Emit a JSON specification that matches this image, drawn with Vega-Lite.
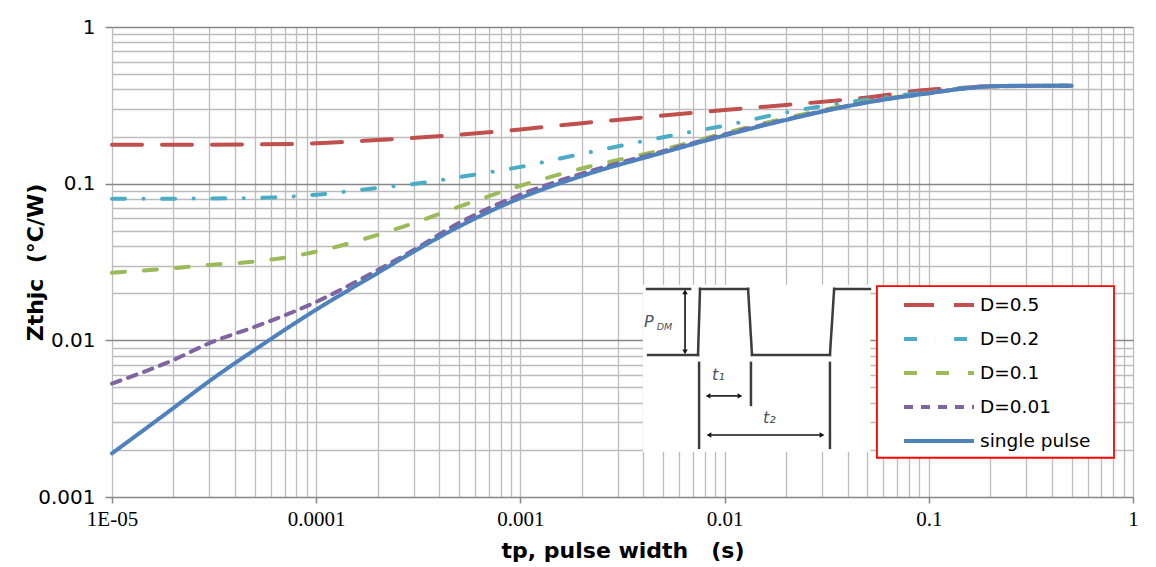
{
  "$schema": "https://vega.github.io/schema/vega-lite/v6.json",
  "width": 1021,
  "height": 470,
  "autosize": {"type": "none"},
  "padding": {"left": 112, "top": 27, "right": 23, "bottom": 70},
  "background": "white",
  "config": {"view": {"stroke": null}},
  "resolve": {"axis": {"x": "independent", "y": "independent"}},
  "datasets": {
    "curves": [
      {"series": "D=0.5", "tp": 0.00001, "z": 0.177},
      {"series": "D=0.5", "tp": 0.00002, "z": 0.177},
      {"series": "D=0.5", "tp": 0.00005, "z": 0.178},
      {"series": "D=0.5", "tp": 0.0001, "z": 0.181},
      {"series": "D=0.5", "tp": 0.0002, "z": 0.19},
      {"series": "D=0.5", "tp": 0.0005, "z": 0.205},
      {"series": "D=0.5", "tp": 0.001, "z": 0.222},
      {"series": "D=0.5", "tp": 0.002, "z": 0.243},
      {"series": "D=0.5", "tp": 0.005, "z": 0.272},
      {"series": "D=0.5", "tp": 0.01, "z": 0.295},
      {"series": "D=0.5", "tp": 0.02, "z": 0.318},
      {"series": "D=0.5", "tp": 0.05, "z": 0.355},
      {"series": "D=0.5", "tp": 0.1, "z": 0.398},
      {"series": "D=0.5", "tp": 0.15, "z": 0.41},
      {"series": "D=0.5", "tp": 0.2, "z": 0.418},
      {"series": "D=0.5", "tp": 0.5, "z": 0.422},
      {"series": "D=0.2", "tp": 0.00001, "z": 0.08},
      {"series": "D=0.2", "tp": 0.00002, "z": 0.0802},
      {"series": "D=0.2", "tp": 0.00005, "z": 0.081},
      {"series": "D=0.2", "tp": 0.0001, "z": 0.085},
      {"series": "D=0.2", "tp": 0.0002, "z": 0.094},
      {"series": "D=0.2", "tp": 0.0003, "z": 0.0995},
      {"series": "D=0.2", "tp": 0.0005, "z": 0.11},
      {"series": "D=0.2", "tp": 0.001, "z": 0.128},
      {"series": "D=0.2", "tp": 0.002, "z": 0.155},
      {"series": "D=0.2", "tp": 0.005, "z": 0.198},
      {"series": "D=0.2", "tp": 0.01, "z": 0.235},
      {"series": "D=0.2", "tp": 0.02, "z": 0.285},
      {"series": "D=0.2", "tp": 0.05, "z": 0.345},
      {"series": "D=0.2", "tp": 0.1, "z": 0.385},
      {"series": "D=0.2", "tp": 0.2, "z": 0.418},
      {"series": "D=0.2", "tp": 0.5, "z": 0.422},
      {"series": "D=0.1", "tp": 0.00001, "z": 0.027},
      {"series": "D=0.1", "tp": 0.00002, "z": 0.0289},
      {"series": "D=0.1", "tp": 0.00003, "z": 0.0303},
      {"series": "D=0.1", "tp": 0.00005, "z": 0.0318},
      {"series": "D=0.1", "tp": 0.0001, "z": 0.0368},
      {"series": "D=0.1", "tp": 0.0002, "z": 0.0471},
      {"series": "D=0.1", "tp": 0.0003, "z": 0.056},
      {"series": "D=0.1", "tp": 0.0005, "z": 0.0713},
      {"series": "D=0.1", "tp": 0.001, "z": 0.097},
      {"series": "D=0.1", "tp": 0.002, "z": 0.125},
      {"series": "D=0.1", "tp": 0.005, "z": 0.165},
      {"series": "D=0.1", "tp": 0.01, "z": 0.21},
      {"series": "D=0.1", "tp": 0.02, "z": 0.262},
      {"series": "D=0.1", "tp": 0.05, "z": 0.335},
      {"series": "D=0.1", "tp": 0.1, "z": 0.38},
      {"series": "D=0.1", "tp": 0.2, "z": 0.418},
      {"series": "D=0.1", "tp": 0.5, "z": 0.422},
      {"series": "D=0.01", "tp": 0.00001, "z": 0.0053},
      {"series": "D=0.01", "tp": 0.00002, "z": 0.0075},
      {"series": "D=0.01", "tp": 0.00003, "z": 0.0096},
      {"series": "D=0.01", "tp": 0.00005, "z": 0.0122},
      {"series": "D=0.01", "tp": 0.0001, "z": 0.0176},
      {"series": "D=0.01", "tp": 0.0002, "z": 0.0281},
      {"series": "D=0.01", "tp": 0.0003, "z": 0.0377},
      {"series": "D=0.01", "tp": 0.0005, "z": 0.0561},
      {"series": "D=0.01", "tp": 0.001, "z": 0.085},
      {"series": "D=0.01", "tp": 0.002, "z": 0.116},
      {"series": "D=0.01", "tp": 0.005, "z": 0.161},
      {"series": "D=0.01", "tp": 0.01, "z": 0.206},
      {"series": "D=0.01", "tp": 0.02, "z": 0.257},
      {"series": "D=0.01", "tp": 0.05, "z": 0.331},
      {"series": "D=0.01", "tp": 0.1, "z": 0.378},
      {"series": "D=0.01", "tp": 0.2, "z": 0.418},
      {"series": "D=0.01", "tp": 0.5, "z": 0.422},
      {"series": "single pulse", "tp": 0.00001, "z": 0.0019},
      {"series": "single pulse", "tp": 0.00002, "z": 0.0037},
      {"series": "single pulse", "tp": 0.00003, "z": 0.0055},
      {"series": "single pulse", "tp": 0.00005, "z": 0.0087},
      {"series": "single pulse", "tp": 0.0001, "z": 0.0157},
      {"series": "single pulse", "tp": 0.0002, "z": 0.0269},
      {"series": "single pulse", "tp": 0.0003, "z": 0.0368},
      {"series": "single pulse", "tp": 0.0005, "z": 0.0532},
      {"series": "single pulse", "tp": 0.001, "z": 0.081},
      {"series": "single pulse", "tp": 0.002, "z": 0.112},
      {"series": "single pulse", "tp": 0.005, "z": 0.158},
      {"series": "single pulse", "tp": 0.01, "z": 0.203},
      {"series": "single pulse", "tp": 0.02, "z": 0.255},
      {"series": "single pulse", "tp": 0.05, "z": 0.33},
      {"series": "single pulse", "tp": 0.1, "z": 0.378},
      {"series": "single pulse", "tp": 0.15, "z": 0.405},
      {"series": "single pulse", "tp": 0.2, "z": 0.418},
      {"series": "single pulse", "tp": 0.3, "z": 0.422},
      {"series": "single pulse", "tp": 0.5, "z": 0.422}
    ],
    "insetBox": [{"x1": 0.00398, "x2": 0.0518, "y1": 0.00194, "y2": 0.0226}],
    "legendBox": [{"x1": 0.0557, "x2": 0.807, "y1": 0.00178, "y2": 0.0222}],
    "wave": [
      {"x1": 0.00417, "x2": 0.00678, "y1": 0.0213, "y2": 0.0213},
      {"x1": 0.00422, "x2": 0.00741, "y1": 0.00807, "y2": 0.00807},
      {"x1": 0.00741, "x2": 0.00758, "y1": 0.00807, "y2": 0.0213},
      {"x1": 0.00758, "x2": 0.01303, "y1": 0.0213, "y2": 0.0213},
      {"x1": 0.01303, "x2": 0.01362, "y1": 0.0213, "y2": 0.00807},
      {"x1": 0.01362, "x2": 0.0328, "y1": 0.00807, "y2": 0.00807},
      {"x1": 0.0328, "x2": 0.0344, "y1": 0.00807, "y2": 0.0213},
      {"x1": 0.0344, "x2": 0.0515, "y1": 0.0213, "y2": 0.0213},
      {"x1": 0.0075, "x2": 0.0075, "y1": 0.00718, "y2": 0.00206},
      {"x1": 0.01346, "x2": 0.01346, "y1": 0.00718, "y2": 0.00387},
      {"x1": 0.0328, "x2": 0.0328, "y1": 0.00718, "y2": 0.00206}
    ],
    "arrows": [
      {"x1": 0.0064, "x2": 0.0064, "y1": 0.0198, "y2": 0.0087},
      {"x1": 0.0085, "x2": 0.0116, "y1": 0.00442, "y2": 0.00442},
      {"x1": 0.0086, "x2": 0.0293, "y1": 0.00249, "y2": 0.00249}
    ],
    "heads": [
      {"x": 0.0064, "y": 0.0204, "dir": "up"},
      {"x": 0.0064, "y": 0.00843, "dir": "down"},
      {"x": 0.0083, "y": 0.00442, "dir": "left"},
      {"x": 0.01189, "y": 0.00442, "dir": "right"},
      {"x": 0.00839, "y": 0.00249, "dir": "left"},
      {"x": 0.03, "y": 0.00249, "dir": "right"}
    ],
    "bigText": [
      {"x": 0.00403, "y": 0.0131, "t": "P"},
      {"x": 0.00867, "y": 0.00601, "t": "t₁"},
      {"x": 0.01542, "y": 0.0032, "t": "t₂"}
    ],
    "smallText": [
      {"x": 0.00465, "y": 0.0121, "t": "DM"}
    ]
  },
  "layer": [
    {
      "data": {"name": "insetBox"},
      "mark": {"type": "rect", "fill": "white"},
      "encoding": {
        "x": {"field": "x1", "type": "quantitative", "scale": {"type": "log", "domain": [0.00001, 1]},
          "axis": {"orient": "bottom", "values": [0.00001,0.00002,0.00003,0.00004,0.00005,0.00006,0.00007,0.00008,0.00009,0.0001,0.0002,0.0003,0.0004,0.0005,0.0006,0.0007,0.0008,0.0009,0.001,0.002,0.003,0.004,0.005,0.006,0.007,0.008,0.009,0.01,0.02,0.03,0.04,0.05,0.06,0.07,0.08,0.09,0.1,0.2,0.3,0.4,0.5,0.6,0.7,0.8,0.9,1],
            "grid": true, "gridColor": "#bcbcbc", "gridWidth": 1.3, "labels": false, "ticks": false, "domain": false, "title": null}},
        "x2": {"field": "x2"},
        "y": {"field": "y1", "type": "quantitative", "scale": {"type": "log", "domain": [0.001, 1]},
          "axis": {"orient": "left", "values": [0.002,0.003,0.004,0.005,0.006,0.007,0.008,0.009,0.02,0.03,0.04,0.05,0.06,0.07,0.08,0.09,0.2,0.3,0.4,0.5,0.6,0.7,0.8,0.9],
            "grid": true, "gridColor": "#bcbcbc", "gridWidth": 1.3, "labels": false, "ticks": false, "domain": false, "title": null}},
        "y2": {"field": "y2"}
      }
    },
    {
      "data": {"name": "legendBox"},
      "mark": {"type": "rect", "fill": "white", "stroke": "#ff0000", "strokeWidth": 1.8},
      "encoding": {
        "x": {"field": "x1", "type": "quantitative", "scale": {"type": "log", "domain": [0.00001, 1]}, "axis": null},
        "x2": {"field": "x2"},
        "y": {"field": "y1", "type": "quantitative", "scale": {"type": "log", "domain": [0.001, 1]}, "axis": null},
        "y2": {"field": "y2"}
      }
    },
    {
      "data": {"name": "wave"},
      "mark": {"type": "rule", "color": "#3c3c3c", "strokeWidth": 2.5, "strokeCap": "square"},
      "encoding": {
        "x": {"field": "x1", "type": "quantitative", "scale": {"type": "log", "domain": [0.00001, 1]}, "axis": null},
        "x2": {"field": "x2"},
        "y": {"field": "y1", "type": "quantitative", "scale": {"type": "log", "domain": [0.001, 1]}, "axis": null},
        "y2": {"field": "y2"}
      }
    },
    {
      "data": {"name": "arrows"},
      "mark": {"type": "rule", "color": "#111111", "strokeWidth": 1.6},
      "encoding": {
        "x": {"field": "x1", "type": "quantitative", "scale": {"type": "log", "domain": [0.00001, 1]}, "axis": null},
        "x2": {"field": "x2"},
        "y": {"field": "y1", "type": "quantitative", "scale": {"type": "log", "domain": [0.001, 1]}, "axis": null},
        "y2": {"field": "y2"}
      }
    },
    {
      "data": {"name": "heads"},
      "mark": {"type": "point", "filled": true, "color": "#111111", "size": 30, "opacity": 1},
      "encoding": {
        "x": {"field": "x", "type": "quantitative", "scale": {"type": "log", "domain": [0.00001, 1]}, "axis": null},
        "y": {"field": "y", "type": "quantitative", "scale": {"type": "log", "domain": [0.001, 1]}, "axis": null},
        "shape": {"field": "dir", "type": "nominal", "legend": null,
          "scale": {"domain": ["up", "down", "left", "right"], "range": ["triangle-up", "triangle-down", "triangle-left", "triangle-right"]}}
      }
    },
    {
      "data": {"name": "bigText"},
      "mark": {"type": "text", "align": "left", "baseline": "middle", "font": "DejaVu Sans", "fontStyle": "italic", "fontSize": 16, "color": "#4a5260"},
      "encoding": {
        "x": {"field": "x", "type": "quantitative", "scale": {"type": "log", "domain": [0.00001, 1]}, "axis": null},
        "y": {"field": "y", "type": "quantitative", "scale": {"type": "log", "domain": [0.001, 1]}, "axis": null},
        "text": {"field": "t"}
      }
    },
    {
      "data": {"name": "smallText"},
      "mark": {"type": "text", "align": "left", "baseline": "middle", "font": "DejaVu Sans", "fontStyle": "italic", "fontSize": 9.5, "color": "#4a5260"},
      "encoding": {
        "x": {"field": "x", "type": "quantitative", "scale": {"type": "log", "domain": [0.00001, 1]}, "axis": null},
        "y": {"field": "y", "type": "quantitative", "scale": {"type": "log", "domain": [0.001, 1]}, "axis": null},
        "text": {"field": "t"}
      }
    },
    {
      "data": {"name": "curves"},
      "mark": {"type": "line", "strokeWidth": 4, "strokeCap": "round", "interpolate": "monotone"},
      "encoding": {
        "x": {"field": "tp", "type": "quantitative", "scale": {"type": "log", "domain": [0.00001, 1]},
          "axis": {"orient": "bottom", "values": [0.00001, 0.0001, 0.001, 0.01, 0.1, 1], "grid": false, "domain": false,
            "ticks": true, "tickSize": 6, "tickColor": "#878787", "tickWidth": 1.5,
            "labelExpr": "datum.value < 0.00005 ? '1E-05' : datum.value < 0.0005 ? '0.0001' : datum.value < 0.005 ? '0.001' : datum.value < 0.05 ? '0.01' : datum.value < 0.5 ? '0.1' : '1'",
            "labelFont": "Liberation Serif", "labelFontSize": 21, "labelColor": "#000000", "labelPadding": 5,
            "labelFlush": false, "labelOverlap": false, "labelBound": false,
            "title": "tp, pulse width\u00a0\u00a0 (s)", "titleFont": "DejaVu Sans", "titleFontSize": 22, "titleFontWeight": "bold",
            "titleColor": "#000000", "titleY": 53, "titleBaseline": "middle"}},
        "y": {"field": "z", "type": "quantitative", "scale": {"type": "log", "domain": [0.001, 1]},
          "axis": {"orient": "left", "values": [0.001, 0.01, 0.1, 1], "grid": true, "gridColor": "#868686", "gridWidth": 1.6,
            "domain": false, "ticks": true, "tickSize": 7, "tickColor": "#868686", "tickWidth": 1.5,
            "labelExpr": "datum.value < 0.005 ? '0.001' : datum.value < 0.05 ? '0.01' : datum.value < 0.5 ? '0.1' : '1'",
            "labelFont": "DejaVu Sans", "labelFontSize": 20, "labelColor": "#000000", "labelPadding": 10,
            "labelFlush": false, "labelOverlap": false, "labelBound": false,
            "title": "Zthjc\u00a0\u00a0(°C/W)", "titleFont": "DejaVu Sans", "titleFontSize": 22, "titleFontWeight": "bold",
            "titleColor": "#000000", "titleX": -77, "titleY": 235, "titleAngle": 270, "titleAlign": "center", "titleBaseline": "middle"}},
        "color": {"field": "series", "type": "nominal",
          "scale": {"domain": ["D=0.5", "D=0.2", "D=0.1", "D=0.01", "single pulse"], "range": ["#C0504D", "#4BACC6", "#9BBB59", "#8064A2", "#4F81BD"]},
          "legend": {"title": null, "orient": "none", "legendX": 790, "legendY": 261, "symbolType": "stroke", "symbolSize": 4900,
            "symbolStrokeWidth": 4, "labelFont": "DejaVu Sans", "labelFontSize": 18.5, "labelColor": "#000000", "labelOffset": 4,
            "clipHeight": 34, "rowPadding": 0, "padding": 0, "labelLimit": 0}},
        "strokeDash": {"field": "series", "type": "nominal",
          "scale": {"domain": ["D=0.5", "D=0.2", "D=0.1", "D=0.01", "single pulse"], "range": [[30, 20], [13, 18.5, 0.1, 18.5], [13, 19], [9, 8], [1, 0]]},
          "legend": {"title": null, "orient": "none", "legendX": 790, "legendY": 261, "symbolType": "stroke", "symbolSize": 4900,
            "symbolStrokeWidth": 4, "labelFont": "DejaVu Sans", "labelFontSize": 18.5, "labelColor": "#000000", "labelOffset": 4,
            "clipHeight": 34, "rowPadding": 0, "padding": 0, "labelLimit": 0}}
      }
    }
  ]
}
